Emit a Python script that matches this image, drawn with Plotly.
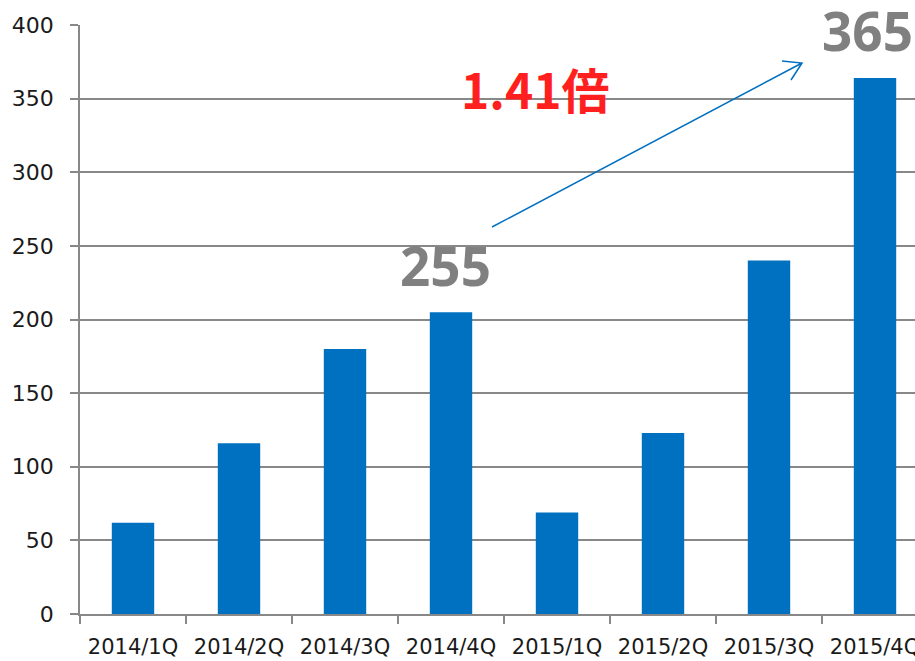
import plotly.graph_objects as go

categories = ["2014/1Q", "2014/2Q", "2014/3Q", "2014/4Q", "2015/1Q", "2015/2Q", "2015/3Q", "2015/4Q"]
values = [62, 116, 180, 205, 69, 123, 240, 364]
y_ticks = [0, 50, 100, 150, 200, 250, 300, 350, 400]
label_left = "255"
label_right = "365"
label_ratio = "1.41倍"

BLUE = "#0070C0"
GRID = "#888888"

# pixel -> paper helpers (plot area: x 80..915, y 25..614)
def px(x):
    return (x - 80) / 835.0

def py(y):
    return (614 - y) / 589.0

# pixel -> data helpers
def dx(x):
    return -0.5 + (x - 80) / 106.0

def dy(y):
    return (614 - y) / 1.4725

fig = go.Figure(go.Bar(x=categories, y=values, marker=dict(color=BLUE, line=dict(width=0)),
                       width=0.4))

fig.update_layout(
    width=915, height=661,
    margin=dict(l=80, r=0, t=25, b=47),
    paper_bgcolor="white", plot_bgcolor="white",
    showlegend=False,
    font=dict(family="DejaVu Sans", size=21, color="#1a1a1a"),
)
fig.update_xaxes(
    type="category", range=[-0.5, 7.5 - 13 / 106.0],
    showline=True, linecolor=GRID, linewidth=1.5,
    ticks="outside", ticklen=8, tickcolor=GRID, tickwidth=1.5,
    tickson="boundaries", showgrid=False, automargin=False,
    tickfont=dict(family="DejaVu Sans", size=21, color="#1a1a1a"),
    ticklabelstandoff=13,
)
fig.update_yaxes(
    range=[0, 400], tickvals=y_ticks,
    showline=True, linecolor=GRID, linewidth=1.5,
    ticks="outside", ticklen=8, tickcolor=GRID, tickwidth=1.5,
    showgrid=True, gridcolor=GRID, gridwidth=1.5,
    zeroline=False, automargin=False,
    tickfont=dict(family="DejaVu Sans", size=22, color="#1a1a1a"),
    ticklabelstandoff=12,
)

# white gaps in gridlines behind labels
gaps = [(395, 513, 236, 256), (452, 634, 89, 109), (815, 916, 15, 35)]
for x0, x1, y0, y1 in gaps:
    fig.add_shape(type="rect", xref="paper", yref="paper",
                  x0=px(x0), x1=px(x1), y0=py(y1), y1=py(y0),
                  fillcolor="white", line=dict(width=0), layer="between")

# arrow
x0, y0, x1, y1 = 492, 227, 802, 63
fig.add_shape(type="path", xref="paper", yref="paper",
              path=f"M {px(x0)},{py(y0)} L {px(x1)},{py(y1)} "
                   f"M {px(782)},{py(61)} L {px(x1)},{py(y1)} L {px(791)},{py(80)}",
              line=dict(color=BLUE, width=1.5), layer="above")

fig.add_annotation(text=f"<b>{label_left}</b>", xref="x", yref="y",
                   x=dx(445), y=dy(265), xanchor="center", yanchor="middle", showarrow=False,
                   font=dict(family="Noto Sans", size=53, color="#808080"))
fig.add_annotation(text=f"<b>{label_right}</b>", xref="x", yref="y",
                   x=dx(914), y=dy(30), xanchor="right", yanchor="middle", showarrow=False,
                   borderpad=0,
                   font=dict(family="Noto Sans", size=53, color="#808080"))
fig.add_annotation(text=f"<b>{label_ratio}</b>", xref="x", yref="y",
                   x=dx(535), y=dy(88), xanchor="center", yanchor="middle", showarrow=False,
                   font=dict(family="Noto Sans CJK JP", size=48, color="#FF1F1F"))

fig.write_html("out.html", config={"displayModeBar": False},
               post_script="document.body.style.margin='0px';document.body.style.overflow='hidden';")
